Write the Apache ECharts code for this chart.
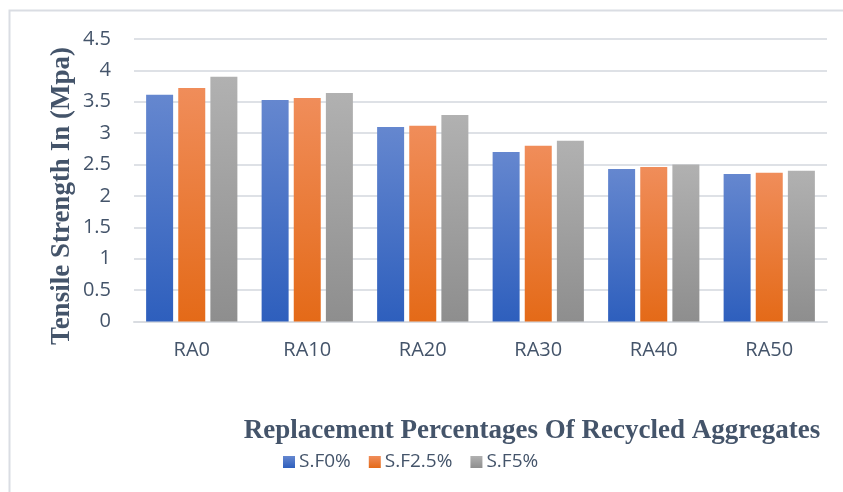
<!DOCTYPE html>
<html>
<head>
<meta charset="utf-8">
<script src="https://cdn.jsdelivr.net/npm/echarts@6/dist/echarts.min.js"></script>
<style>
  html, body { margin: 0; padding: 0; background: #fff; }
  #chart { width: 843px; height: 492px; }
</style>
</head>
<body>
<div id="chart"></div>
<script>
// Split tensile strength (MPa) by recycled aggregate replacement and silica fume content
const categories = ['RA0', 'RA10', 'RA20', 'RA30', 'RA40', 'RA50'];
const seriesNames = ['S.F0%', 'S.F2.5%', 'S.F5%'];
const sf0 = [3.61, 3.53, 3.10, 2.70, 2.43, 2.35];
const sf25 = [3.72, 3.56, 3.12, 2.80, 2.46, 2.37];
const sf5 = [3.90, 3.64, 3.29, 2.88, 2.50, 2.40];
const yTicks = { min: 0, max: 4.5, interval: 0.5 };
const xTitle = 'Replacement Percentages Of Recycled Aggregates';
const yTitle = 'Tensile Strength In (Mpa)';

const gradients = [
  ['#6587CF', '#2E5FBD'],
  ['#F08D5A', '#E46A18'],
  ['#B1B1B1', '#8E8E8E']
];
const textColor = '#44546A';
const sans = "'Open Sans', sans-serif";
const serif = "'Liberation Serif', serif";

function grad(pair) {
  return new echarts.graphic.LinearGradient(0, 0, 0, 1, [
    { offset: 0, color: pair[0] },
    { offset: 1, color: pair[1] }
  ]);
}

const values = [sf0, sf25, sf5];
const chart = echarts.init(document.getElementById('chart'));
chart.setOption({
  animation: false,
  backgroundColor: '#fff',
  graphic: [
    { type: 'polyline', shape: { points: [[9.5, 492], [9.5, 10.5], [843, 10.5]] },
      style: { stroke: '#DADDE3', lineWidth: 2, fill: null } },
    { type: 'text', x: 62, y: 196, rotation: Math.PI / 2,
      style: { text: yTitle, font: 'bold 27px ' + serif, fill: textColor,
               align: 'center', verticalAlign: 'middle' } },
    { type: 'text', x: 532, y: 431,
      style: { text: xTitle, font: 'bold 27px ' + serif, fill: textColor,
               align: 'center', verticalAlign: 'middle' } }
  ],
  grid: { left: 134, right: 16, top: 39, bottom: 170.5, containLabel: false },
  legend: {
    data: seriesNames,
    left: 283, top: 452, padding: 0,
    itemWidth: 12, itemHeight: 12, itemGap: 18,
    icon: 'rect',
    textStyle: { fontFamily: sans, fontSize: 19, lineHeight: 20, color: textColor, padding: [0, 0, 0, -1] }
  },
  xAxis: {
    type: 'category',
    data: categories,
    axisLine: { lineStyle: { color: '#D9DCE1', width: 2 } },
    axisTick: { show: false },
    axisLabel: { fontFamily: sans, fontSize: 20, color: textColor, margin: 19 }
  },
  yAxis: {
    type: 'value',
    min: yTicks.min, max: yTicks.max, interval: yTicks.interval,
    axisLine: { show: false },
    axisTick: { show: false },
    axisLabel: { fontFamily: sans, fontSize: 20, color: textColor, margin: 23 },
    splitLine: { lineStyle: { color: '#DEE1E6', width: 2 } }
  },
  series: seriesNames.map((name, i) => ({
    name: name,
    type: 'bar',
    data: values[i],
    barWidth: 27,
    barGap: '19%',
    itemStyle: { color: grad(gradients[i]) }
  }))
});
</script>
</body>
</html>
